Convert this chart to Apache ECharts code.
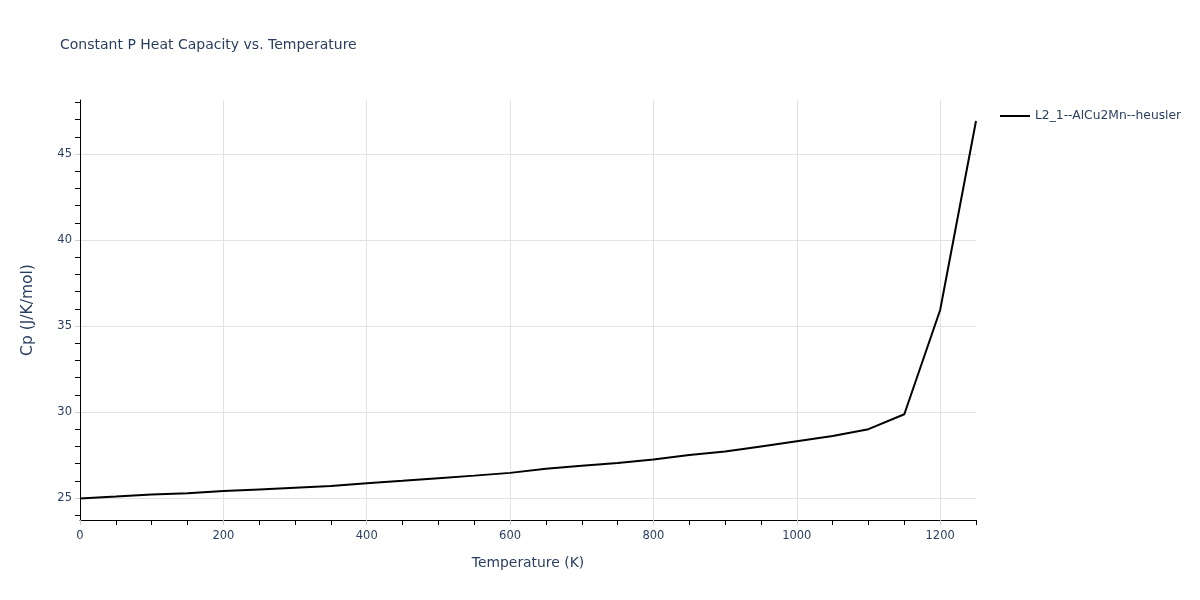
<!DOCTYPE html>
<html>
<head>
<meta charset="utf-8">
<script src="https://cdn.jsdelivr.net/npm/echarts@6/dist/echarts.min.js"></script>
<style>
html, body { margin: 0; padding: 0; background: #fff; }
#chart { width: 1200px; height: 600px; }
</style>
</head>
<body>
<div id="chart"></div>
<script>
// temperatures (K) and Cp values
var temps = [0, 50, 100, 150, 200, 250, 300, 350, 400, 450, 500, 550, 600, 650,
    700, 750, 800, 850, 900, 950, 1000, 1050, 1100, 1150, 1200, 1250];
var cpValues = [24.97, 25.08, 25.2, 25.28, 25.4, 25.5, 25.6, 25.7, 25.86, 26.0, 26.15, 26.3, 26.46, 26.7,
    26.87, 27.04, 27.24, 27.5, 27.7, 28.0, 28.3, 28.6, 29.0, 29.87, 35.93, 46.92];
var seriesName = 'L2_1--AlCu2Mn--heusler';
var xMajor = [0, 200, 400, 600, 800, 1000, 1200];
var yMajor = [25, 30, 35, 40, 45];

var xMinor = [];
for (var i = 0; i <= 1250; i += 50) { if (xMajor.indexOf(i) < 0) xMinor.push(i); }
var yMinor = [];
for (var j = 24; j <= 48; j++) { if (yMajor.indexOf(j) < 0) yMinor.push(j); }

var pts = [];
temps.forEach(function (t, k) { pts.push([t, cpValues[k]]); });

var textColor = '#2a3f5f';
var font = '"DejaVu Sans", Verdana, sans-serif';

var chart = echarts.init(document.getElementById('chart'));
var option = {
    backgroundColor: '#fff',
    animation: false,
    title: {
        text: 'Constant P Heat Capacity vs. Temperature',
        left: 55, top: 33,
        textStyle: { fontFamily: font, fontSize: 14, fontWeight: 'normal', color: textColor }
    },
    legend: {
        left: 995, top: 105,
        icon: 'rect', itemWidth: 30, itemHeight: 2,
        textStyle: { fontFamily: font, fontSize: 12.3, color: textColor },
        data: [seriesName]
    },
    grid: { left: 80, right: 224, top: 100, bottom: 80 },
    xAxis: [{
        type: 'value', min: 0, max: 1250,
        name: 'Temperature (K)', nameLocation: 'middle', nameGap: 36,
        nameTextStyle: { fontFamily: font, fontSize: 13.9, color: textColor },
        axisLine: { show: true, onZero: false, lineStyle: { color: '#000', width: 1 } },
        axisTick: { show: true, customValues: xMajor, length: 5, lineStyle: { color: '#d0d0d0' } },
        axisLabel: {
            customValues: xMajor, margin: 10, fontFamily: font, fontSize: 11.5, color: textColor,
            formatter: function (v) { return String(v); }
        },
        splitLine: { show: true, customValues: xMajor, lineStyle: { color: '#e2e2e2' } }
    }, {
        type: 'value', min: 0, max: 1250, position: 'bottom',
        axisLine: { show: false },
        axisTick: { show: true, customValues: xMinor, length: 5, lineStyle: { color: '#000' } },
        axisLabel: { show: false },
        splitLine: { show: false }
    }],
    yAxis: [{
        type: 'value', min: 23.72, max: 48.14,
        name: 'Cp (J/K/mol)', nameLocation: 'middle', nameGap: 44,
        nameTextStyle: { fontFamily: font, fontSize: 15.5, color: textColor },
        axisLine: { show: true, onZero: false, lineStyle: { color: '#000', width: 1 } },
        axisTick: { show: true, customValues: yMajor, length: 5, lineStyle: { color: '#d0d0d0' } },
        axisLabel: {
            customValues: yMajor, margin: 8, fontFamily: font, fontSize: 11.5, color: textColor,
            formatter: function (v) { return String(v); }
        },
        splitLine: { show: true, customValues: yMajor, lineStyle: { color: '#e2e2e2' } }
    }, {
        type: 'value', min: 23.72, max: 48.14, position: 'left',
        axisLine: { show: false },
        axisTick: { show: true, customValues: yMinor, length: 5, lineStyle: { color: '#000' } },
        axisLabel: { show: false },
        splitLine: { show: false }
    }],
    series: [{
        name: seriesName,
        type: 'line',
        xAxisIndex: 0, yAxisIndex: 0,
        showSymbol: false,
        lineStyle: { color: '#000', width: 2 },
        itemStyle: { color: '#000' },
        data: pts
    }]
};
chart.setOption(option);
</script>
</body>
</html>
